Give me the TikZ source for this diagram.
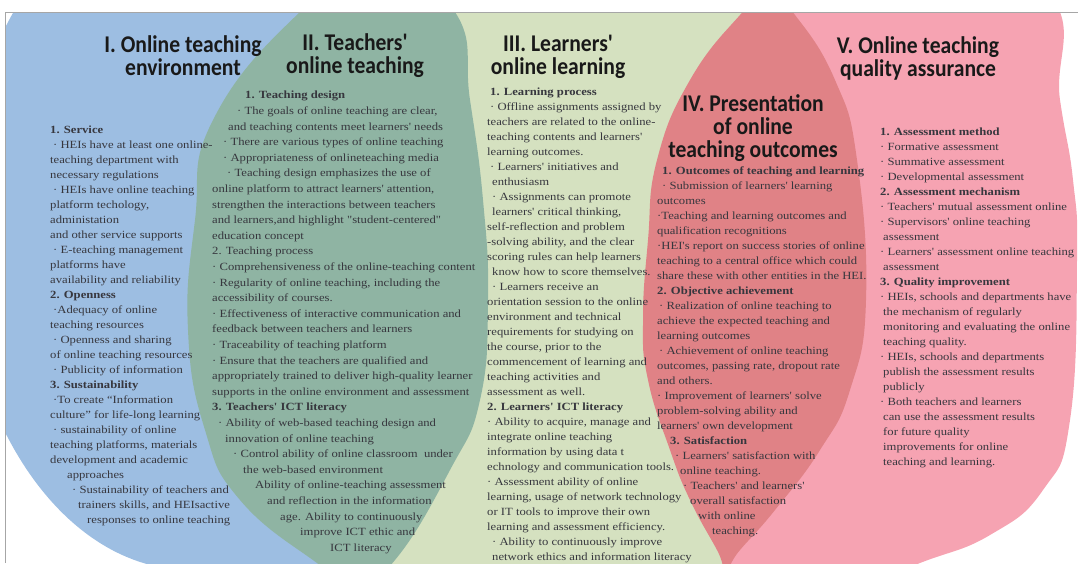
\documentclass[tikz,border=0pt]{standalone}
\usepackage{fontspec}
\setmainfont{Liberation Serif}
\newfontfamily\titlefont[FakeStretch=0.9]{Carlito}
\newfontfamily\bodyfont[FakeStretch=1.15]{Liberation Serif}

\definecolor{blueI}{RGB}{157,190,226}
\definecolor{greenII}{RGB}{143,180,163}
\definecolor{sageIII}{RGB}{213,225,192}
\definecolor{redIV}{RGB}{224,130,134}
\definecolor{pinkV}{RGB}{246,163,178}
\definecolor{txtgray}{RGB}{55,55,62}

\tikzset{
  column/.style={anchor=north west, inner sep=0pt, align=left, text=txtgray,
    font=\bodyfont\fontsize{11}{15}\selectfont},
  heading/.style={anchor=center, inner sep=0pt, align=center, text=black!90,
    font=\titlefont\bfseries\fontsize{24}{23}\selectfont},
}

\begin{document}
\begin{tikzpicture}[x=1pt,y=1pt,yscale=-1]
\useasboundingbox (0,0) rectangle (1078,563);

\begin{scope}
\clip (5,12) rectangle (1078,563);
%Shape: Rectangle [III]
\fill[sageIII] (380,-20) rectangle (770,600);
%Shape: Ellipse [I]
\fill[blueI] (190,230) ellipse [x radius=230, y radius=340];
\fill[blueI] (190,-20) rectangle (330,600);
%Shape: Curve [II]
\fill[greenII] plot[smooth cycle, tension=0.8] coordinates {(380,-40) (300,12) (213,120) (195,220) (188,330) (205,430) (240,500) (317,563) (355,585) (395,560) (450,470) (480,400) (488,300) (483,200) (470,100) (455,12)};
%Shape: Curve [V]
\fill[pinkV] plot[smooth cycle, tension=0.8] coordinates {(900,-60) (1045,-10) (1060,100) (1073,180) (1077,260) (1070,420) (1043,490) (990,535) (920,563) (850,590) (725,580) (728,550) (745,450) (755,300) (757,160) (766,0) (800,-40)};
%Shape: Curve [IV]
\fill[redIV] plot[smooth cycle, tension=0.8] coordinates {(768,-8) (795,15) (835,80) (857,160) (866,300) (850,390) (820,450) (775,510) (740,550) (726,568) (717,550) (690,500) (670,450) (648,380) (643,320) (648,240) (657,160) (690,80) (740,15)};
\end{scope}
%Straight Lines [frame]
\draw[black!35, line width=0.8pt] (5,563) -- (5,12) -- (1078,12);

% Text Node
\node[heading] (envtitle) at (183,56) {I. Online teaching\\environment};
% Text Node
\node[heading] (teachtitle) at (355,56) {II. Teachers'\\online teaching};
% Text Node
\node[heading] (learntitle) at (558,57) {III. Learners'\\online learning};
% Text Node
\node[heading] (outtitle) at (753,128) {IV. Presentation\\of online\\teaching outcomes};
% Text Node
\node[heading] (qatitle) at (918,58) {V. Online teaching\\quality assurance};

% Text Node
\node[column] (envtext) at (50,126) {\textbf{1. Service}\\
\hspace*{3pt}· HEIs have at least one online-\\
teaching department with\\
necessary regulations\\
\hspace*{3pt}· HEIs have online teaching\\
platform techology,\\
administation\\
and other service supports\\
\hspace*{3pt}· E-teaching management\\
platforms have\\
availability and reliability\\
\textbf{2. Openness}\\
\hspace*{3pt}·Adequacy of online\\
teaching resources\\
\hspace*{3pt}· Openness and sharing\\
of online teaching resources\\
\hspace*{3pt}· Publicity of information\\
\textbf{3. Sustainability}\\
\hspace*{3pt}·To create “Information\\
culture” for life-long learning\\
\hspace*{3pt}· sustainability of online\\
teaching platforms, materials\\
development and academic\\
\hspace*{17pt}approaches\\
\hspace*{22pt}· Sustainability of teachers and\\
\hspace*{28pt}trainers skills, and HEIsactive\\
\hspace*{37pt}responses to online teaching};

% Text Node
\node[column, font=\bodyfont\fontsize{11}{15.6}\selectfont] (teachtext) at (212,91) {\hspace*{33pt}\textbf{1. Teaching design}\\
\hspace*{25pt}· The goals of online teaching are clear,\\
\hspace*{16pt}and teaching contents meet learners' needs\\
\hspace*{11pt}· There are various types of online teaching\\
\hspace*{11pt}· Appropriateness of onlineteaching media\\
\hspace*{15pt}· Teaching design emphasizes the use of\\
online platform to attract learners' attention,\\
strengthen the interactions between teachers\\
and learners,and highlight "student-centered"\\
education concept\\
2. Teaching process\\
· Comprehensiveness of the online-teaching content\\
· Regularity of online teaching, including the\\
accessibility of courses.\\
· Effectiveness of interactive communication and\\
feedback between teachers and learners\\
· Traceability of teaching platform\\
· Ensure that the teachers are qualified and\\
appropriately trained to deliver high-quality learner\\
supports in the online environment and assessment\\
\textbf{3. Teachers' ICT literacy}\\
\hspace*{6pt}· Ability of web-based teaching design and\\
\hspace*{13pt}innovation of online teaching\\
\hspace*{21pt}· Control ability of online classroom \ under\\
\hspace*{31pt}the web-based environment\\
\hspace*{43pt}Ability of online-teaching assessment\\
\hspace*{55pt}and reflection in the information\\
\hspace*{68pt}age. Ability to continuously\\
\hspace*{88pt}improve ICT ethic and\\
\hspace*{118pt}ICT literacy};

% Text Node
\node[column] (learntext) at (487,88) {\hspace*{3pt}\textbf{1. Learning process}\\
\hspace*{3pt}· Offline assignments assigned by\\
teachers are related to the online-\\
teaching contents and learners'\\
learning outcomes.\\
\hspace*{3pt}· Learners' initiatives and\\
\hspace*{5pt}enthusiasm\\
\hspace*{5pt}· Assignments can promote\\
\hspace*{5pt}learners' critical thinking,\\
self-reflection and problem\\
-solving ability, and the clear\\
scoring rules can help learners\\
\hspace*{5pt}know how to score themselves.\\
\hspace*{5pt}· Learners receive an\\
orientation session to the online\\
environment and technical\\
requirements for studying on\\
the course, prior to the\\
commencement of learning and\\
teaching activities and\\
assessment as well.\\
\textbf{2. Learners' ICT literacy}\\
· Ability to acquire, manage and\\
integrate online teaching\\
information by using data t\\
echnology and communication tools.\\
· Assessment ability of online\\
learning, usage of network technology\\
or IT tools to improve their own\\
learning and assessment efficiency.\\
\hspace*{5pt}· Ability to continuously improve\\
\hspace*{5pt}network ethics and information literacy};

% Text Node
\node[column] (outtext) at (657,167) {\hspace*{5pt}\textbf{1. Outcomes of teaching and learning}\\
\hspace*{5pt}· Submission of learners' learning\\
outcomes\\
·Teaching and learning outcomes and\\
qualification recognitions\\
·HEI's report on success stories of online\\
teaching to a central office which could\\
share these with other entities in the HEI.\\
\textbf{2. Objective achievement}\\
\hspace*{2pt}· Realization of online teaching to\\
achieve the expected teaching and\\
learning outcomes\\
\hspace*{2pt}· Achievement of online teaching\\
outcomes, passing rate, dropout rate\\
and others.\\
· Improvement of learners' solve\\
problem-solving ability and\\
learners' own development\\
\hspace*{13pt}\textbf{3. Satisfaction}\\
\hspace*{18pt}· Learners' satisfaction with\\
\hspace*{23pt}online teaching.\\
\hspace*{26pt}· Teachers' and learners'\\
\hspace*{33pt}overall satisfaction\\
\hspace*{41pt}with online\\
\hspace*{55pt}teaching.};

% Text Node
\node[column] (qatext) at (880,128) {\textbf{1. Assessment method}\\
· Formative assessment\\
· Summative assessment\\
· Developmental assessment\\
\textbf{2. Assessment mechanism}\\
· Teachers' mutual assessment online\\
· Supervisors' online teaching\\
\hspace*{3pt}assessment\\
· Learners' assessment online teaching\\
\hspace*{3pt}assessment\\
\textbf{3. Quality improvement}\\
· HEIs, schools and departments have\\
\hspace*{3pt}the mechanism of regularly\\
\hspace*{3pt}monitoring and evaluating the online\\
\hspace*{3pt}teaching quality.\\
· HEIs, schools and departments\\
\hspace*{3pt}publish the assessment results\\
\hspace*{3pt}publicly\\
· Both teachers and learners\\
\hspace*{3pt}can use the assessment results\\
\hspace*{3pt}for future quality\\
\hspace*{3pt}improvements for online\\
\hspace*{3pt}teaching and learning.};

\end{tikzpicture}
\end{document}
